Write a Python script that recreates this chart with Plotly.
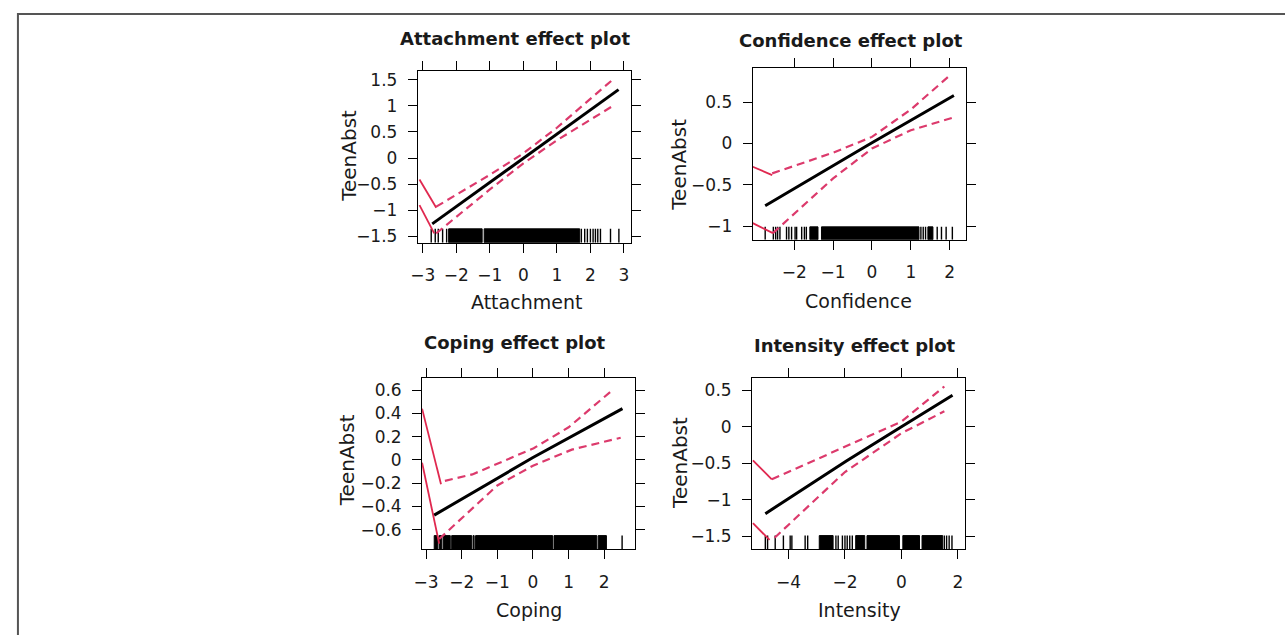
import plotly.graph_objects as go

W, H = 1285, 635

# ---- Attachment ----
att_fit_x = [-2.72, 0.0, 2.84]
att_fit_y = [-1.26, 0.0, 1.31]
att_up_x = [-2.6, -1.0, 0.0, 1.0, 2.70]
att_up_y = [-0.93, -0.32, 0.09, 0.58, 1.52]
att_lo_x = [-2.6, -1.0, 0.0, 1.0, 2.70]
att_lo_y = [-1.44, -0.60, -0.10, 0.34, 1.01]
att_edge_up_x, att_edge_up_y = [-3.1, -2.6], [-0.41, -0.95]
att_edge_lo_x, att_edge_lo_y = [-3.1, -2.66], [-0.90, -1.44]
att_rug_ticks = [-2.75, -2.63, -2.54, -2.41, -2.29, 1.73, 1.83, 1.91, 2.0, 2.08,
                 2.15, 2.22, 2.30, 2.6, 2.85]
att_rug_blocks = [(-2.23, -1.23), (-1.17, 1.68)]
att_xticks = [-3, -2, -1, 0, 1, 2, 3]
att_xtext = ["−3", "−2", "−1", "0", "1", "2", "3"]
att_yticks = [-1.5, -1, -0.5, 0, 0.5, 1, 1.5]
att_ytext = ["−1.5", "−1", "−0.5", "0", "0.5", "1", "1.5"]

# ---- Confidence ----
conf_fit_x = [-2.75, 0.0, 2.11]
conf_fit_y = [-0.75, 0.01, 0.58]
conf_up_x = [-2.57, -1.0, 0.0, 1.0, 2.05]
conf_up_y = [-0.36, -0.11, 0.08, 0.41, 0.84]
conf_lo_x = [-2.55, -1.0, 0.0, 1.0, 2.07]
conf_lo_y = [-1.08, -0.42, -0.06, 0.16, 0.31]
conf_edge_up_x, conf_edge_up_y = [-3.07, -2.57], [-0.28, -0.38]
conf_edge_lo_x, conf_edge_lo_y = [-3.07, -2.55], [-0.96, -1.08]
conf_rug_ticks = [-2.75, -2.54, -2.48, -2.43, -2.37, -2.20, -2.14, -2.07, -1.98, -1.94,
                  -1.81, -1.74, -1.69, 1.26, 1.32, 1.38, 1.68, 1.79, 1.91, 2.07]
conf_rug_blocks = [(-1.60, -1.39), (-1.30, 1.21), (1.44, 1.57)]
conf_xticks = [-2, -1, 0, 1, 2]
conf_xtext = ["−2", "−1", "0", "1", "2"]
conf_yticks = [-1, -0.5, 0, 0.5]
conf_ytext = ["−1", "−0.5", "0", "0.5"]

# ---- Coping ----
cop_fit_x = [-2.77, -0.96, 0.0, 2.51]
cop_fit_y = [-0.475, -0.15, 0.02, 0.44]
cop_up_x = [-2.47, -1.7, 0.02, 1.0, 2.27]
cop_up_y = [-0.18, -0.125, 0.10, 0.28, 0.61]
cop_lo_x = [-2.63, -1.0, 0.0, 1.09, 2.46]
cop_lo_y = [-0.68, -0.22, -0.05, 0.088, 0.19]
cop_edge_up_x, cop_edge_up_y = [-3.11, -2.58], [0.44, -0.21]
cop_edge_lo_x, cop_edge_lo_y = [-3.11, -2.63], [-0.025, -0.72]
cop_rug_ticks = [2.5]
cop_rug_blocks = [(-2.77, -2.67), (-2.63, -2.56), (-2.52, -2.32), (-2.28, -1.72),
                  (-1.68, -1.65), (-1.61, 0.55), (0.59, 1.79), (1.83, 2.06)]
cop_xticks = [-3, -2, -1, 0, 1, 2]
cop_xtext = ["−3", "−2", "−1", "0", "1", "2"]
cop_yticks = [-0.6, -0.4, -0.2, 0, 0.2, 0.4, 0.6]
cop_ytext = ["−0.6", "−0.4", "−0.2", "0", "0.2", "0.4", "0.6"]

# ---- Intensity ----
int_fit_x = [-4.82, -1.95, 0.0, 1.81]
int_fit_y = [-1.19, -0.47, 0.0, 0.43]
int_up_x = [-4.59, -2.0, 0.0, 1.52]
int_up_y = [-0.72, -0.27, 0.07, 0.55]
int_lo_x = [-4.49, -2.0, 0.0, 1.52]
int_lo_y = [-1.52, -0.62, -0.09, 0.21]
int_edge_up_x, int_edge_up_y = [-5.26, -4.59], [-0.46, -0.72]
int_edge_lo_x, int_edge_lo_y = [-5.26, -4.67], [-1.32, -1.55]
int_rug_ticks = [-4.82, -4.74, -4.47, -4.18, -3.94, -3.88, -3.41, -3.32, -2.32, -2.24,
                 -2.09, -2.00, -1.92, -1.83, -1.74, 1.52, 1.60, 1.69, 1.79]
int_rug_blocks = [(-2.91, -2.42), (-1.62, -1.30), (-1.22, -0.07), (0.05, 0.64), (0.73, 1.46)]
int_xticks = [-4, -2, 0, 2]
int_xtext = ["−4", "−2", "0", "2"]
int_yticks = [-1.5, -1, -0.5, 0, 0.5]
int_ytext = ["−1.5", "−1", "−0.5", "0", "0.5"]

FONT = "DejaVu Sans"
TXT = "#1a1a1a"
RED_DASH = "#dc3a6c"
RED_SOLID = "#e0284f"

panels = [
    dict(title="Attachment effect plot", xlabel="Attachment",
         box=(411.7, 626, 70, 243), xr=(-3.15, 3.2), yr=(-1.62, 1.66), rug_px=14,
         fit=(att_fit_x, att_fit_y), up=(att_up_x, att_up_y), lo=(att_lo_x, att_lo_y),
         eu=(att_edge_up_x, att_edge_up_y), el=(att_edge_lo_x, att_edge_lo_y),
         ticks=att_rug_ticks, blocks=att_rug_blocks,
         xt=(att_xticks, att_xtext), yt=(att_yticks, att_ytext),
         tpos=(510, 36.7), ylpos=(341.7, 155), xlpos=(521, 303)),
    dict(title="Confidence effect plot", xlabel="Confidence",
         box=(749, 963.3, 66.7, 240), xr=(-3.07, 2.41), yr=(-1.16, 0.91), rug_px=13,
         fit=(conf_fit_x, conf_fit_y), up=(conf_up_x, conf_up_y), lo=(conf_lo_x, conf_lo_y),
         eu=(conf_edge_up_x, conf_edge_up_y), el=(conf_edge_lo_x, conf_edge_lo_y),
         ticks=conf_rug_ticks, blocks=conf_rug_blocks,
         xt=(conf_xticks, conf_xtext), yt=(conf_yticks, conf_ytext),
         tpos=(848, 39.3), ylpos=(675, 164), xlpos=(855, 301.7)),
    dict(title="Coping effect plot", xlabel="Coping",
         box=(416, 630, 380, 552.7), xr=(-3.11, 2.85), yr=(-0.77, 0.70), rug_px=14,
         fit=(cop_fit_x, cop_fit_y), up=(cop_up_x, cop_up_y), lo=(cop_lo_x, cop_lo_y),
         eu=(cop_edge_up_x, cop_edge_up_y), el=(cop_edge_lo_x, cop_edge_lo_y),
         ticks=cop_rug_ticks, blocks=cop_rug_blocks,
         xt=(cop_xticks, cop_xtext), yt=(cop_yticks, cop_ytext),
         tpos=(510, 343.3), ylpos=(340, 463), xlpos=(524, 613.3)),
    dict(title="Intensity effect plot", xlabel="Intensity",
         box=(748.3, 962.7, 379.3, 552.7), xr=(-5.29, 2.25), yr=(-1.68, 0.67), rug_px=14,
         fit=(int_fit_x, int_fit_y), up=(int_up_x, int_up_y), lo=(int_lo_x, int_lo_y),
         eu=(int_edge_up_x, int_edge_up_y), el=(int_edge_lo_x, int_edge_lo_y),
         ticks=int_rug_ticks, blocks=int_rug_blocks,
         xt=(int_xticks, int_xtext), yt=(int_yticks, int_ytext),
         tpos=(852, 346.7), ylpos=(675, 465), xlpos=(856.7, 613.3)),
]


def px_x(v):
    return v / W


def px_y(v):
    return 1 - v / H


fig = go.Figure()
annotations = []
layout_axes = {}

for i, p in enumerate(panels, start=1):
    xa = "x" if i == 1 else f"x{i}"
    ya = "y" if i == 1 else f"y{i}"
    x0, x1, y0, y1 = p["box"]
    ymin, ymax = p["yr"]
    rug_top = ymin + (ymax - ymin) * p["rug_px"] / (y1 - y0)

    # rug: dense runs as filled blocks
    bx, by = [], []
    for lo, hi in p["blocks"]:
        bx += [lo, hi, hi, lo, lo, None]
        by += [ymin, ymin, rug_top, rug_top, ymin, None]
    fig.add_trace(go.Scatter(x=bx, y=by, mode="lines", fill="toself",
                             fillcolor="black", line=dict(color="black", width=1),
                             xaxis=xa, yaxis=ya, hoverinfo="skip"))
    # rug: individual ticks
    tx, ty = [], []
    for v in p["ticks"]:
        tx += [v, v, None]
        ty += [ymin, rug_top, None]
    fig.add_trace(go.Scatter(x=tx, y=ty, mode="lines",
                             line=dict(color="black", width=1.4),
                             xaxis=xa, yaxis=ya, hoverinfo="skip"))

    # confidence band
    for key in ("up", "lo"):
        fig.add_trace(go.Scatter(x=p[key][0], y=p[key][1], mode="lines",
                                 line=dict(color=RED_DASH, width=2.2, dash="8px,5px"),
                                 xaxis=xa, yaxis=ya, hoverinfo="skip"))
    for key in ("eu", "el"):
        fig.add_trace(go.Scatter(x=p[key][0], y=p[key][1], mode="lines",
                                 line=dict(color=RED_SOLID, width=1.8),
                                 xaxis=xa, yaxis=ya, hoverinfo="skip"))
    # fitted effect
    fig.add_trace(go.Scatter(x=p["fit"][0], y=p["fit"][1], mode="lines",
                             line=dict(color="black", width=3),
                             xaxis=xa, yaxis=ya, hoverinfo="skip"))

    common = dict(showline=True, linecolor="black", linewidth=1, mirror="allticks",
                  ticks="outside", ticklen=9, tickwidth=1, tickcolor="black",
                  showgrid=False, zeroline=False, fixedrange=True,
                  tickfont=dict(family=FONT, size=17, color=TXT))
    xkey = "xaxis" if i == 1 else f"xaxis{i}"
    ykey = "yaxis" if i == 1 else f"yaxis{i}"
    layout_axes[xkey] = dict(common, domain=[px_x(x0), px_x(x1)], range=list(p["xr"]),
                             anchor=ya, tickmode="array", tickvals=p["xt"][0],
                             ticktext=p["xt"][1], ticklabelstandoff=8)
    layout_axes[ykey] = dict(common, domain=[px_y(y1), px_y(y0)], range=list(p["yr"]),
                             anchor=xa, tickmode="array", tickvals=p["yt"][0],
                             ticktext=p["yt"][1], ticklabelstandoff=7)

    annotations.append(dict(text=f"<b>{p['title']}</b>", x=px_x(p["tpos"][0]),
                            y=px_y(p["tpos"][1]), xref="paper", yref="paper",
                            showarrow=False, xanchor="center", yanchor="middle",
                            font=dict(family=FONT, size=18, color=TXT)))
    annotations.append(dict(text="TeenAbst", x=px_x(p["ylpos"][0]), y=px_y(p["ylpos"][1]),
                            xref="paper", yref="paper", showarrow=False, textangle=-90,
                            xanchor="center", yanchor="middle",
                            font=dict(family=FONT, size=20, color=TXT)))
    annotations.append(dict(text=p["xlabel"], x=px_x(p["xlpos"][0]), y=px_y(p["xlpos"][1]),
                            xref="paper", yref="paper", showarrow=False,
                            xanchor="center", yanchor="middle",
                            font=dict(family=FONT, size=19, color=TXT)))

fig.update_layout(
    width=W, height=H, margin=dict(l=0, r=0, t=0, b=0),
    paper_bgcolor="white", plot_bgcolor="white", showlegend=False,
    annotations=annotations,
    shapes=[dict(type="rect", xref="paper", yref="paper",
                 x0=px_x(9), x1=1.02, y0=-0.02, y1=px_y(12),
                 line=dict(color="#555555", width=2), fillcolor="rgba(0,0,0,0)")],
    **layout_axes,
)

fig.write_html("out.html", config={"displayModeBar": False})
